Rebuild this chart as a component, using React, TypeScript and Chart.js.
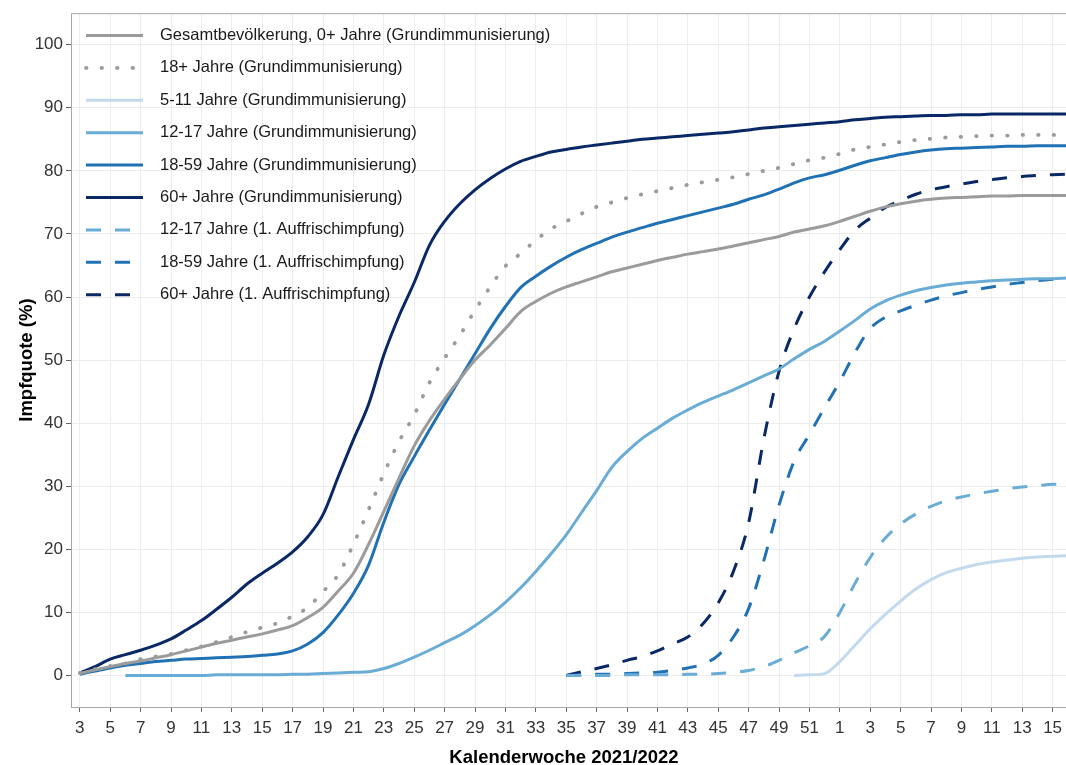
import React, { useEffect, useRef } from "react";
import { Chart, registerables } from "chart.js";

Chart.register(...registerables);

const FONT = "'Liberation Sans', Arial, Helvetica, sans-serif";

// Calendar weeks 2021 (3..52) followed by 2022 (1..16)
const weeks = [
  3, 4, 5, 6, 7, 8, 9, 10, 11, 12, 13, 14, 15, 16, 17, 18, 19, 20, 21, 22,
  23, 24, 25, 26, 27, 28, 29, 30, 31, 32, 33, 34, 35, 36, 37, 38, 39, 40, 41, 42,
  43, 44, 45, 46, 47, 48, 49, 50, 51, 52,
  1, 2, 3, 4, 5, 6, 7, 8, 9, 10, 11, 12, 13, 14, 15, 16,
];

const yTicks = [0, 10, 20, 30, 40, 50, 60, 70, 80, 90, 100];

// Series (start = index into weeks of the first value)
const gesamtStart = 0;
const gesamt = [
  0.3, 0.9, 1.4, 1.9, 2.3, 2.8, 3.3, 3.9, 4.5, 5.1,
  5.6, 6.1, 6.6, 7.2, 7.9, 9.2, 10.8, 13.4, 16.2, 20.8,
  26.0, 31.3, 36.4, 40.4, 43.8, 47.0, 50.0, 52.4, 55.0, 57.7,
  59.3, 60.6, 61.6, 62.4, 63.2, 64.0, 64.6, 65.2, 65.8, 66.3,
  66.8, 67.2, 67.6, 68.1, 68.6, 69.1, 69.6, 70.3, 70.8, 71.3,
  72.0, 72.8, 73.6, 74.3, 74.8, 75.2, 75.5, 75.7, 75.8, 75.9, 76.0, 76.0, 76.1, 76.1, 76.1, 76.1,
];

const adults18Start = 0;
const adults18 = [
  0.4, 1.0, 1.5, 1.9, 2.6, 3.0, 3.4, 4.0, 4.6, 5.3,
  6.1, 6.9, 7.6, 8.3, 9.4, 10.8, 13.3, 16.0, 20.8, 26.3,
  32.0, 37.1, 41.3, 46.4, 50.3, 53.9, 57.9, 61.6, 64.9, 66.9,
  69.0, 70.8, 72.0, 73.2, 74.3, 75.0, 75.7, 76.3, 76.8, 77.3,
  77.8, 78.2, 78.6, 79.0, 79.5, 80.0, 80.5, 81.1, 81.7, 82.1,
  82.7, 83.4, 83.8, 84.2, 84.6, 84.9, 85.1, 85.3, 85.4, 85.5, 85.6, 85.6, 85.7, 85.7, 85.7, 85.7,
];

const kids511Start = 47;
const kids511 = [
  0.0, 0.1, 0.3,
  2.2, 4.8, 7.4, 9.7, 11.8, 13.7, 15.2, 16.3, 17.0, 17.6, 18.0, 18.3, 18.6, 18.8, 18.9, 19.0,
];

const teens1217Start = 3;
const teens1217 = [
  0.0, 0.0, 0.0, 0.0, 0.0, 0.0, 0.1,
  0.1, 0.1, 0.1, 0.1, 0.2, 0.2, 0.3, 0.4, 0.5, 0.6,
  1.1, 1.9, 2.9, 4.0, 5.2, 6.4, 7.9, 9.6, 11.6, 13.9,
  16.5, 19.3, 22.3, 25.8, 29.3, 33.0, 35.5, 37.6, 39.2, 40.8,
  42.1, 43.3, 44.3, 45.3, 46.4, 47.5, 48.6, 50.2, 51.7, 53.0,
  54.6, 56.3, 58.1, 59.4, 60.3, 61.0, 61.5, 61.9, 62.2, 62.4, 62.6, 62.7, 62.8, 62.9, 62.9, 63.0,
];

const adults1859Start = 0;
const adults1859 = [
  0.2, 0.7, 1.2, 1.6, 1.9, 2.2, 2.4, 2.6, 2.7, 2.8,
  2.9, 3.0, 3.2, 3.4, 3.9, 5.0, 6.8, 9.6, 13.0, 17.5,
  24.3, 30.3, 34.7, 38.9, 43.0, 47.0, 51.0, 55.0, 58.5, 61.5,
  63.3, 64.9, 66.3, 67.5, 68.5, 69.5, 70.3, 71.0, 71.7, 72.3,
  72.9, 73.5, 74.1, 74.7, 75.5, 76.2, 77.1, 78.1, 78.9, 79.4,
  80.1, 80.9, 81.6, 82.1, 82.6, 83.0, 83.3, 83.5, 83.6, 83.7, 83.8, 83.9, 83.9, 84.0, 84.0, 84.0,
];

const seniors60Start = 0;
const seniors60 = [
  0.4, 1.4, 2.6, 3.3, 4.0, 4.8, 5.8, 7.2, 8.7, 10.5,
  12.4, 14.5, 16.2, 17.8, 19.6, 22.0, 25.5, 31.5, 37.4, 43.0,
  50.8, 57.0, 62.3, 68.2, 72.0, 74.8, 77.0, 78.8, 80.3, 81.5,
  82.3, 83.0, 83.4, 83.8, 84.1, 84.4, 84.7, 85.0, 85.2, 85.4,
  85.6, 85.8, 86.0, 86.2, 86.5, 86.8, 87.0, 87.2, 87.4, 87.6,
  87.8, 88.1, 88.3, 88.5, 88.6, 88.7, 88.8, 88.8, 88.9, 88.9, 89.0, 89.0, 89.0, 89.0, 89.0, 89.0,
];

const booster1217Start = 32;
const booster1217 = [
  0.0, 0.0, 0.0, 0.0, 0.1, 0.1, 0.1, 0.1,
  0.2, 0.2, 0.3, 0.5, 0.8, 1.4, 2.4, 3.6, 4.7, 6.2,
  10.0, 14.6, 18.7, 21.8, 24.0, 25.6, 26.8, 27.7, 28.3, 28.8, 29.2, 29.6, 29.9, 30.1, 30.3, 30.4,
];

const booster1859Start = 32;
const booster1859 = [
  0.0, 0.1, 0.2, 0.2, 0.3, 0.4, 0.5, 0.8,
  1.2, 1.8, 3.2, 6.1, 10.6, 18.2, 27.0, 34.0, 38.2, 42.5,
  46.6, 51.2, 55.0, 56.8, 57.8, 58.7, 59.5, 60.2, 60.7, 61.2, 61.6, 62.0, 62.3, 62.6, 62.8, 63.0,
];

const booster60Start = 32;
const booster60 = [
  0.0, 0.6, 1.1, 1.7, 2.4, 3.0, 3.9, 5.0,
  6.1, 8.2, 11.5, 16.5, 24.2, 37.5, 48.2, 55.0, 60.0, 64.0,
  67.5, 70.6, 72.5, 74.2, 75.3, 76.3, 77.0, 77.5, 77.9, 78.3, 78.6, 78.9, 79.1, 79.3, 79.4, 79.5,
];

const GRAY = "#9b9b9b";
const C511 = "#c3d9ee";
const C1217 = "#69acd5";
const C1859 = "#2171b5";
const C60 = "#0a2866";

const DASH = [15, 14];
const DOT = [0.5, 15];

const toPoints = (start: number, vals: number[]) =>
  vals.map((v, i) => ({ x: start + i, y: v }));

const xTickIndices = weeks.map((_, i) => i).filter((i) => i % 2 === 0 && i <= 64);

const insideLegend = {
  id: "insideLegend",
  afterDraw(chart: any) {
    const { ctx, chartArea } = chart;
    ctx.save();
    chart.data.datasets.forEach((ds: any, i: number) => {
      const y = chartArea.top + 22.3 + i * 32.4;
      const x0 = chartArea.left + 15;
      ctx.beginPath();
      ctx.strokeStyle = ds.borderColor;
      ctx.lineWidth = ds.borderWidth;
      ctx.setLineDash(ds.borderDash || []);
      ctx.lineCap = ds.borderCapStyle || "butt";
      ctx.moveTo(x0, y);
      ctx.lineTo(x0 + 57, y);
      ctx.stroke();
      ctx.setLineDash([]);
      ctx.fillStyle = "#1a1a1a";
      ctx.font = `16.5px ${FONT}`;
      ctx.textAlign = "left";
      ctx.textBaseline = "middle";
      ctx.fillText(ds.label, x0 + 74, y);
    });
    ctx.restore();
  },
};

const panelBorder = {
  id: "panelBorder",
  afterDatasetsDraw(chart: any) {
    const { ctx, chartArea } = chart;
    ctx.save();
    ctx.strokeStyle = "#a8a8a8";
    ctx.lineWidth = 1;
    ctx.strokeRect(
      chartArea.left + 0.5,
      chartArea.top + 0.5,
      chartArea.right - chartArea.left - 1,
      chartArea.bottom - chartArea.top
    );
    ctx.restore();
  },
};

export default function App() {
  const ref = useRef<HTMLCanvasElement | null>(null);

  useEffect(() => {
    if (!ref.current) return;
    const line = (label: string, start: number, vals: number[], color: string, dash: number[], cap: string = "butt", width: number = 3) => ({
      label,
      data: toPoints(start, vals),
      borderColor: color,
      backgroundColor: color,
      borderWidth: width,
      borderDash: dash,
      borderCapStyle: cap,
      pointRadius: 0,
      pointHoverRadius: 0,
      cubicInterpolationMode: "monotone",
      fill: false,
    });

    const chart = new Chart(ref.current, {
      type: "line",
      data: {
        datasets: [
          line("Gesamtbevölkerung, 0+ Jahre (Grundimmunisierung)", gesamtStart, gesamt, GRAY, []),
          line("18+ Jahre (Grundimmunisierung)", adults18Start, adults18, GRAY, DOT, "round", 3.8),
          line("5-11 Jahre (Grundimmunisierung)", kids511Start, kids511, C511, []),
          line("12-17 Jahre (Grundimmunisierung)", teens1217Start, teens1217, C1217, []),
          line("18-59 Jahre (Grundimmunisierung)", adults1859Start, adults1859, C1859, []),
          line("60+ Jahre (Grundimmunisierung)", seniors60Start, seniors60, C60, []),
          line("12-17 Jahre (1. Auffrischimpfung)", booster1217Start, booster1217, C1217, DASH),
          line("18-59 Jahre (1. Auffrischimpfung)", booster1859Start, booster1859, C1859, DASH),
          line("60+ Jahre (1. Auffrischimpfung)", booster60Start, booster60, C60, DASH),
        ] as any,
      },
      options: {
        responsive: false,
        animation: false,
        devicePixelRatio: 1,
        layout: { padding: { top: 9, left: 0, right: 0, bottom: 0 } },
        plugins: {
          legend: { display: false },
          tooltip: { enabled: false },
          title: {
            display: true,
            position: "bottom",
            text: "Kalenderwoche 2021/2022",
            color: "#000",
            font: { family: FONT, size: 18.5, weight: "bold", lineHeight: 0.81 },
            padding: 0,
          },
        },
        scales: {
          x: {
            type: "linear",
            min: -0.58,
            max: 68.96,
            afterFit: (axis: any) => {
              axis.height = 43;
            },
            afterBuildTicks: (axis: any) => {
              axis.ticks = xTickIndices.map((v) => ({ value: v }));
            },
            ticks: {
              autoSkip: false,
              maxRotation: 0,
              padding: 6,
              color: "#333",
              font: { family: FONT, size: 17 },
              callback: (v: any) => String(weeks[v as number]),
            },
            grid: {
              color: "#ededed",
              lineWidth: 1,
              tickColor: "#666",
              tickLength: 5,
            },
            border: { display: false },
          },
          y: {
            min: -5,
            max: 105,
            afterFit: (axis: any) => {
              axis.width = 71;
            },
            afterBuildTicks: (axis: any) => {
              axis.ticks = yTicks.map((v) => ({ value: v }));
            },
            ticks: {
              padding: 3,
              color: "#333",
              font: { family: FONT, size: 17 },
            },
            grid: {
              color: "#ededed",
              lineWidth: 1,
              tickColor: "#666",
              tickLength: 5,
            },
            border: { display: false },
            title: {
              display: true,
              text: "Impfquote (%)",
              color: "#000",
              font: { family: FONT, size: 18.5, weight: "bold", lineHeight: 1.2 },
              padding: { top: 16, bottom: 0 },
            },
          },
        },
      },
      plugins: [panelBorder, insideLegend],
    });
    return () => chart.destroy();
  }, []);

  return (
    <div
      style={{
        position: "absolute",
        left: 0,
        top: 0,
        width: 1066,
        height: 765,
        overflow: "hidden",
        background: "#fff",
      }}
    >
      <canvas ref={ref} width={1128} height={765} style={{ width: 1128, height: 765, display: "block" }} />
    </div>
  );
}
